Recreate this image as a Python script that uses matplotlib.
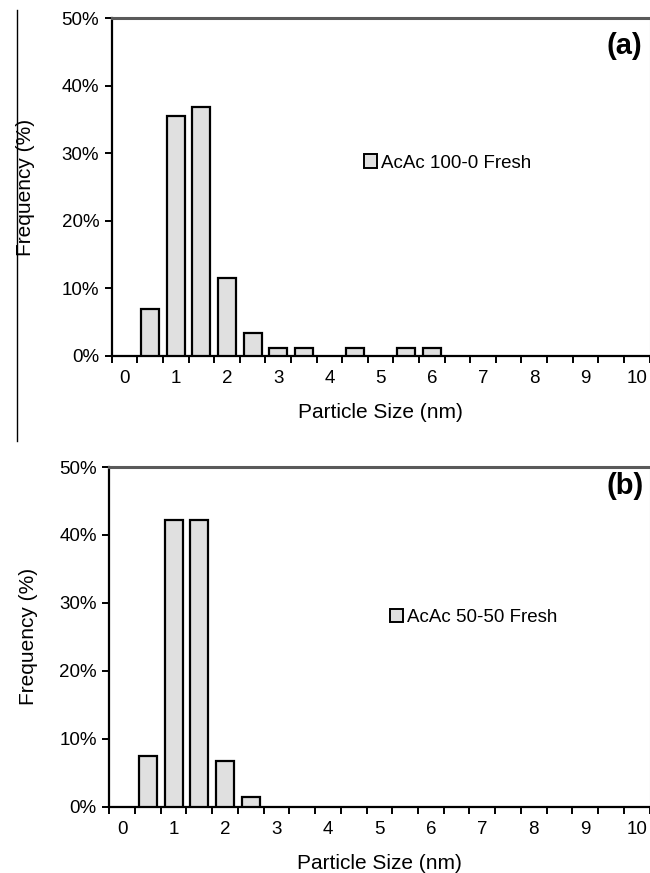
import matplotlib
matplotlib.use("Agg")
import matplotlib.pyplot as plt
from matplotlib.lines import Line2D
from matplotlib.ticker import FixedLocator, FuncFormatter
import numpy as np

plt.rcParams['font.family'] = ['Liberation Sans', 'DejaVu Sans']

# ---- data ----
sizes_a = [0.5, 1.0, 1.5, 2.0, 2.5, 3.0, 3.5, 4.5, 5.5, 6.0]
freq_a = [6.9, 35.6, 36.8, 11.5, 3.45, 1.15, 1.15, 1.15, 1.15, 1.15]
label_a = "AcAc 100-0 Fresh"

sizes_b = [0.5, 1.0, 1.5, 2.0, 2.5]
freq_b = [7.5, 42.2, 42.2, 6.8, 1.4]
label_b = "AcAc 50-50 Fresh"

x_tick_labels = [str(i) for i in range(0, 11)]
y_ticks = [0, 10, 20, 30, 40, 50]

W, H = 650, 873
fig = plt.figure(figsize=(W / 100, H / 100), dpi=100)

def px_axes(left, top, right, bottom):
    return fig.add_axes([left / W, 1 - bottom / H, (right - left) / W, (bottom - top) / H])

ax_a = px_axes(111.7, 18.3, 649.5, 356)
ax_b = px_axes(109.3, 467, 649.5, 806.7)

def style(ax, sizes, freq, label, panel, leg_xy, panel_xy, ylab_x):
    ax.bar(sizes, freq, width=0.35, color='#e0e0e0', edgecolor='black',
           linewidth=1.6, label=label, zorder=3)
    ax.set_xlim(-0.25, 10.25)
    ax.set_ylim(0, 50)
    ax.set_yticks(y_ticks)
    ax.yaxis.set_major_formatter(FuncFormatter(lambda v, p: f"{int(v)}%"))
    ax.xaxis.set_major_locator(FixedLocator(list(range(0, 11))))
    ax.set_xticklabels(x_tick_labels)
    ax.xaxis.set_minor_locator(FixedLocator(list(np.arange(-0.25, 10.26, 0.5))))
    ax.tick_params(axis='x', which='major', length=0, pad=10, labelsize=13.5)
    ax.tick_params(axis='x', which='minor', length=5, width=1.4, direction='out')
    ax.tick_params(axis='y', which='major', length=5, width=1.4, direction='out',
                   pad=4, labelsize=13.5)
    for s in ['left', 'bottom']:
        ax.spines[s].set_linewidth(1.6)
        ax.spines[s].set_color('black')
    ax.spines['top'].set_linewidth(2.2)
    ax.spines['top'].set_color('#5a5a5a')
    ax.spines['right'].set_linewidth(0.8)
    ax.spines['right'].set_color('#c8c8c8')
    ax.set_xlabel("Particle Size (nm)", fontsize=15)
    ax.xaxis.set_label_coords(0.5, -0.166)
    ax.xaxis.label.set_va('center')
    ax.set_ylabel("Frequency (%)", fontsize=15)
    ax.yaxis.set_label_coords(ylab_x, 0.5)
    ax.yaxis.label.set_va('center')
    leg = ax.legend(loc='center left', bbox_to_anchor=leg_xy, frameon=False,
                    fontsize=13.5, handlelength=0.7, handleheight=0.7,
                    handletextpad=0.2, borderpad=0, borderaxespad=0)
    for h in leg.legend_handles:
        h.set_linewidth(1.4)
    ax.text(panel_xy[0], panel_xy[1], panel, transform=ax.transAxes,
            fontsize=21, fontweight='bold', ha='center', va='center')

style(ax_a, sizes_a, freq_a, label_a, "(a)", (0.469, 0.5715), (0.9526, 0.918), -0.161)
style(ax_b, sizes_b, freq_b, label_b, "(b)", (0.52, 0.558), (0.955, 0.944), -0.149)

# thin vertical rule at the left edge of the upper panel (page artifact)
fig.add_artist(Line2D([17 / W, 17 / W], [1 - 10 / H, 1 - 441 / H],
                      color='black', linewidth=1.0, transform=fig.transFigure))

fig.savefig("out.png", dpi=100)
